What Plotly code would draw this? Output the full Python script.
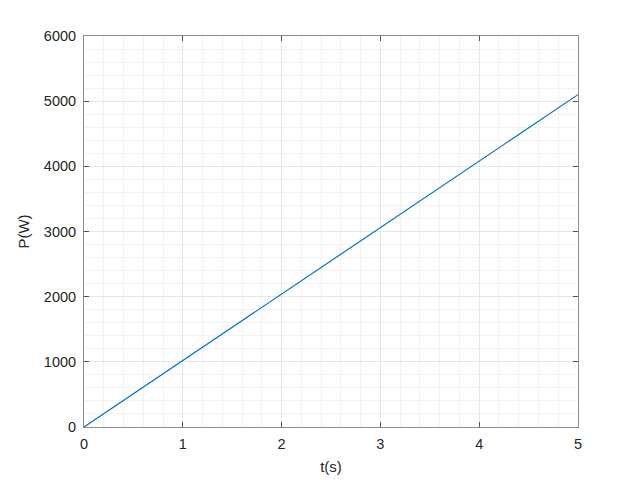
import plotly.graph_objects as go

t_values = [0, 5]
p_values = [0, 5100]
x_ticks = [0, 1, 2, 3, 4, 5]
y_ticks = [0, 1000, 2000, 3000, 4000, 5000, 6000]

fig = go.Figure()
fig.add_trace(go.Scatter(x=t_values, y=p_values, mode="lines",
                         line=dict(color="#0072BD", width=1.2), showlegend=False))

axis_common = dict(
    showline=True, linecolor="#8c8c8c", linewidth=1, mirror="ticks",
    ticks="inside", ticklen=5, tickcolor="#555555",
    showgrid=True, gridcolor="#e6e6e6", gridwidth=1,
    zeroline=False,
    tickfont=dict(family="Liberation Sans, Arial", size=14.5, color="#262626"),
    title_font=dict(family="Liberation Sans, Arial", size=15, color="#262626"),
)

fig.update_xaxes(range=[0, 5], tickvals=x_ticks, title_text="t(s)", title_standoff=10,
                 ticklabelstandoff=4,
                 minor=dict(dtick=0.2, showgrid=True, gridcolor="#f2f2f2", ticks=""),
                 **axis_common)
fig.update_yaxes(range=[0, 6000], tickvals=y_ticks, title_text="P(W)", title_standoff=10,
                 ticklabelstandoff=4,
                 minor=dict(dtick=200, showgrid=True, gridcolor="#f2f2f2", ticks=""),
                 **axis_common)

fig.update_layout(
    width=640, height=480,
    margin=dict(l=76, r=70, t=28, b=61),
    paper_bgcolor="white", plot_bgcolor="white",
)

fig.write_html("out.html")
